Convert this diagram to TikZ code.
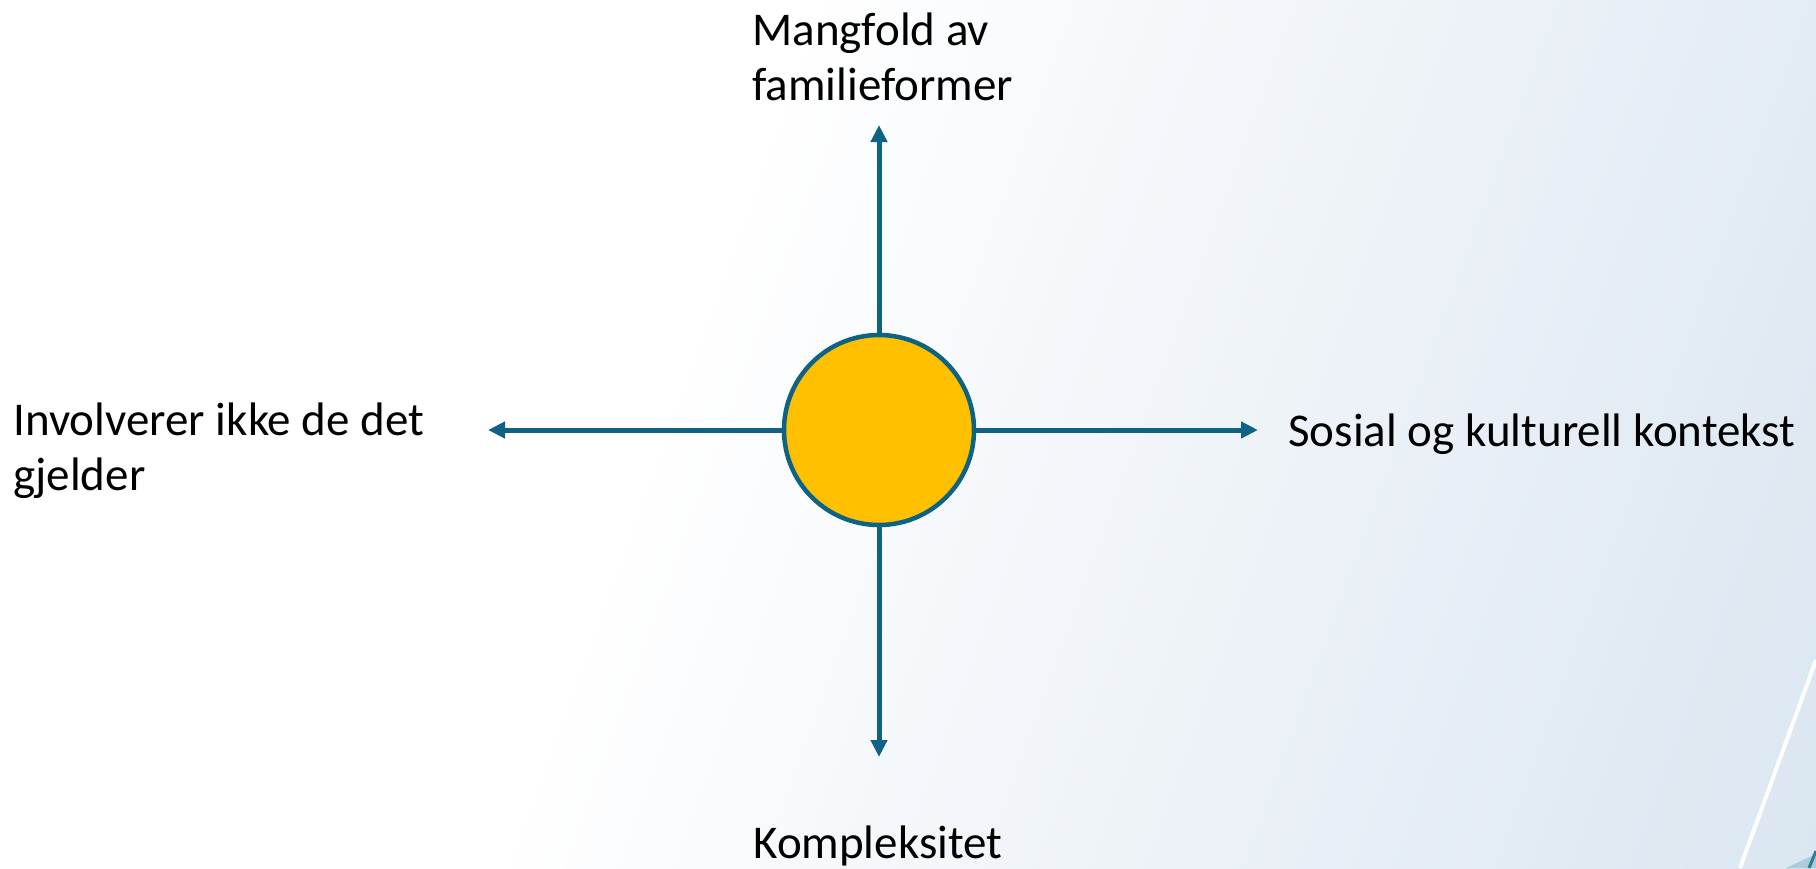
\documentclass[tikz,border=0pt]{standalone}
\usepackage{fontspec}
\setmainfont{Carlito}
\usepackage{xcolor}
\usetikzlibrary{arrows.meta}
\definecolor{tealdark}{RGB}{14,98,132}
\definecolor{goldfill}{RGB}{255,192,0}
\definecolor{bgmid}{RGB}{228,236,244}
\definecolor{bgblue}{RGB}{200,220,235}
\pgfdeclarehorizontalshading{slidebg}{100bp}{color(0bp)=(white); color(42bp)=(white); color(72bp)=(bgmid); color(100bp)=(bgblue)}

\begin{document}
\begin{tikzpicture}[x=0.5pt,y=0.5pt,yscale=-1,xscale=1,
  axisarrow/.style={draw=tealdark, line width=2.5pt, -{Triangle[length=8.5pt,width=8pt]}},
  labeltext/.style={anchor=base west, inner sep=0pt, align=left, font=\fontsize{23.5pt}{27.5pt}\selectfont}]
%set diagram to 1816 x 868
\useasboundingbox (0,0) rectangle (1816,868);
%Background
\shade[shading=slidebg, shading angle=-20] (0,0) rectangle (1816,868);
%Straight Lines (white stripe)
\draw [white, line width=2pt] (1816,660) -- (1740,868);
\fill [color={rgb, 255:red, 170; green, 204; blue, 219}] (1786,868) -- (1816,854) -- (1816,868) -- cycle;
\draw [color={rgb, 255:red, 46; green, 125; blue, 149}, line width=1.5pt] (1809,868) -- (1816,851);
%Shape: Circle
\node (hub) [circle, draw=tealdark, fill=goldfill, line width=2.25pt, minimum size=95pt, inner sep=0pt] at (879,430) {};
%Arrow ends
\coordinate (topend) at (879,125);
\coordinate (bottomend) at (879,757);
\coordinate (leftend) at (488,430);
\coordinate (rightend) at (1258,430);
%Straight Lines
\draw [axisarrow] (hub.north) -- (topend);
\draw [axisarrow] (hub.south) -- (bottomend);
\draw [axisarrow] (hub.west) -- (leftend);
\draw [axisarrow] (hub.east) -- (rightend);
% Text Node
\node (mangfold) [labeltext] at (752,100) {Mangfold av\\familieformer};
% Text Node
\node (involverer) [labeltext] at (13,490) {Involverer ikke de det\\gjelder};
% Text Node
\node (sosial) [labeltext] at (1288,446) {Sosial og kulturell kontekst};
% Text Node
\node (kompleks) [labeltext] at (753,858) {Kompleksitet};
\end{tikzpicture}
\end{document}
